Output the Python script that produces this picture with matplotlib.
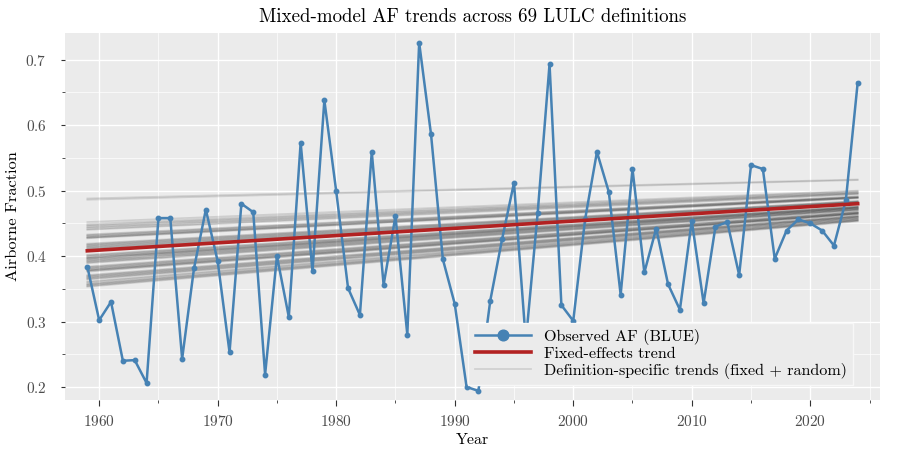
import matplotlib
matplotlib.use("Agg")
from matplotlib import pyplot as plt
from matplotlib.ticker import MultipleLocator

plt.rcParams['font.family'] = 'serif'
plt.rcParams['font.serif'] = ['cmr10', 'DejaVu Serif']
plt.rcParams['mathtext.fontset'] = 'cm'
plt.rcParams['axes.formatter.use_mathtext'] = True
plt.rcParams['axes.unicode_minus'] = False

years = list(range(1959, 2025))
af = [0.384, 0.302, 0.330, 0.240, 0.241, 0.206, 0.458, 0.458, 0.243, 0.381,
      0.471, 0.392, 0.253, 0.480, 0.467, 0.219, 0.400, 0.307, 0.573, 0.377,
      0.638, 0.499, 0.351, 0.310, 0.559, 0.356, 0.461, 0.280, 0.726, 0.586,
      0.395, 0.327, 0.200, 0.194, 0.332, 0.426, 0.512, 0.270, 0.466, 0.693,
      0.325, 0.301, 0.456, 0.559, 0.498, 0.341, 0.533, 0.375, 0.442, 0.357,
      0.318, 0.454, 0.328, 0.445, 0.452, 0.371, 0.539, 0.533, 0.396, 0.439,
      0.456, 0.450, 0.439, 0.416, 0.485, 0.665]

# fixed-effects trend, value at first and last year
fixed_start, fixed_end = 0.408, 0.480

# definition-specific trends (fixed + random), 69 definitions
def_start = [0.488, 0.486,
             0.452, 0.449, 0.447, 0.446, 0.444, 0.443, 0.441, 0.440,
             0.433, 0.432, 0.431, 0.430, 0.429, 0.428, 0.428, 0.427,
             0.419, 0.418, 0.417, 0.416, 0.415, 0.414, 0.413, 0.412, 0.411, 0.410,
             0.402, 0.401, 0.400, 0.399, 0.398, 0.397, 0.397, 0.396, 0.395,
             0.394, 0.393, 0.392, 0.391, 0.390, 0.389,
             0.384, 0.383, 0.382, 0.381, 0.380, 0.379, 0.378, 0.378, 0.377, 0.376,
             0.371, 0.370, 0.369, 0.368, 0.367, 0.366, 0.365, 0.364,
             0.361, 0.360, 0.358, 0.357, 0.356, 0.355, 0.354, 0.353]
def_end = [0.517, 0.516,
           0.500, 0.499, 0.498, 0.497, 0.496, 0.496, 0.495, 0.494,
           0.491, 0.491, 0.490, 0.490, 0.489, 0.489, 0.489, 0.488,
           0.484, 0.484, 0.483, 0.483, 0.482, 0.482, 0.481, 0.481, 0.480, 0.480,
           0.476, 0.476, 0.475, 0.475, 0.474, 0.474, 0.474, 0.473, 0.473,
           0.472, 0.472, 0.471, 0.471, 0.470, 0.470,
           0.468, 0.467, 0.467, 0.466, 0.466, 0.465, 0.465, 0.465, 0.464, 0.464,
           0.462, 0.461, 0.461, 0.460, 0.460, 0.459, 0.459, 0.458,
           0.457, 0.457, 0.456, 0.455, 0.455, 0.454, 0.454, 0.453]

fig = plt.figure(figsize=(9, 4.5), dpi=100)
ax = fig.add_axes([0.072, 0.111, 0.906, 0.816])
ax.set_facecolor('#EBEBEB')
for s in ax.spines.values():
    s.set_visible(False)

ends = [years[0], years[-1]]
for i, (a, b) in enumerate(zip(def_start, def_end)):
    ax.plot(ends, [a, b], color='black', alpha=0.12, lw=1.2,
            label='Definition-specific trends (fixed + random)' if i == 0 else None,
            zorder=2)
ax.plot(ends, [fixed_start, fixed_end], color='#B22222', lw=2.6,
        label='Fixed-effects trend', zorder=4)
ax.plot(years, af, color='#4682B4', lw=1.8, marker='o', ms=3.2,
        label='Observed AF (BLUE)', zorder=3)

ax.set_xlim(1957.1, 2025.9)
ax.set_ylim(0.180, 0.741)
ax.xaxis.set_major_locator(MultipleLocator(10))
ax.xaxis.set_minor_locator(MultipleLocator(5))
ax.yaxis.set_major_locator(MultipleLocator(0.1))
ax.yaxis.set_minor_locator(MultipleLocator(0.05))
ax.grid(which='major', color='white', lw=1.0)
ax.grid(which='minor', color='white', lw=0.5)
ax.set_axisbelow(True)
ax.tick_params(which='major', length=4, color='#333333', labelcolor='#4d4d4d', labelsize=11)
ax.tick_params(which='minor', length=2.5, color='#333333')
ax.tick_params(axis='y', which='major', length=3, pad=10)
ax.tick_params(axis='x', which='major', pad=6)

ax.set_xlabel('Year', fontsize=11.5, labelpad=3)
ax.set_ylabel('Airborne Fraction', fontsize=11.8)
ax.set_title('Mixed-model AF trends across 69 LULC definitions', fontsize=13.6, pad=8)

h, l = ax.get_legend_handles_labels()
order = [2, 1, 0]
leg = ax.legend([h[i] for i in order], [l[i] for i in order], loc='lower right',
                fontsize=11.6, handlelength=3.5, markerscale=2.4, framealpha=1,
                facecolor='#EBEBEB', edgecolor='#F7F7F7', fancybox=False,
                borderpad=0.4, labelspacing=0.1, borderaxespad=0,
                bbox_to_anchor=(0.967, 0.041))
leg.get_frame().set_linewidth(1.0)
leg.set_zorder(5)

fig.savefig('out.png', dpi=100)
